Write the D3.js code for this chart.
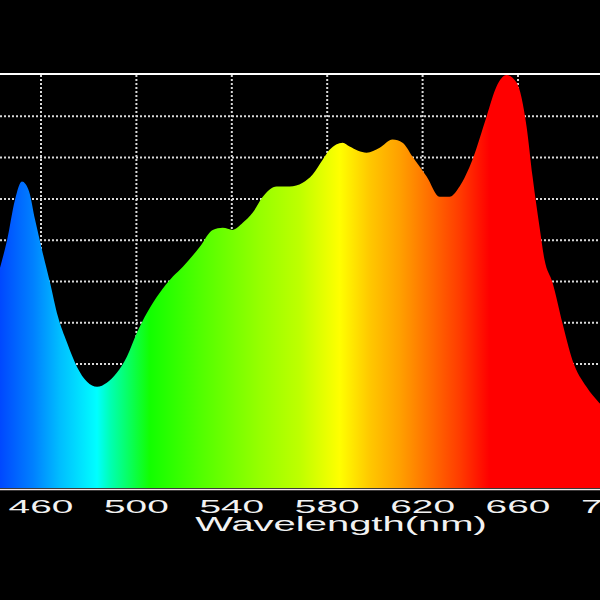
<!DOCTYPE html>
<html>
<head>
<meta charset="utf-8">
<script src="https://cdn.jsdelivr.net/npm/d3@7/dist/d3.min.js"></script>
<style>
html,body{margin:0;padding:0;background:#000;}
svg{display:block;}
</style>
</head>
<body>
<svg id="chart" width="600" height="600"></svg>
<script>
// Spectrum data: wavelength (nm) and relative intensity
const wavelengths = [442.8,445.8,449.1,452.0,455.0,457.5,460.4,463.8,467.1,470.9,475.1,479.3,483.5,487.6,491.8,496.0,500.2,504.4,509.8,515.3,519.5,526.6,532.0,536.2,540.4,544.6,548.8,553.0,558.8,564.3,569.7,573.9,578.1,581.0,586.5,589.4,596.5,602.0,607.4,611.6,615.8,621.7,627.1,631.3,635.5,640.9,646.8,651.0,655.2,659.4,663.6,666.1,669.0,671.1,674.5,678.6,682.8,688.7,694.1,700.0];
const intensity   = [0.533,0.601,0.698,0.742,0.718,0.650,0.577,0.497,0.415,0.352,0.293,0.257,0.245,0.255,0.279,0.318,0.376,0.424,0.473,0.512,0.536,0.584,0.625,0.630,0.625,0.642,0.667,0.705,0.730,0.730,0.739,0.759,0.795,0.819,0.836,0.827,0.812,0.824,0.844,0.836,0.802,0.754,0.705,0.705,0.730,0.795,0.899,0.972,1.000,0.982,0.875,0.754,0.633,0.553,0.497,0.400,0.310,0.245,0.206,0.177];

// Axis ticks
const xTicks = [460,500,540,580,620,660,700];
const yGrid  = [0.1,0.2,0.3,0.4,0.5,0.6,0.7,0.8,0.9];
const xLabel = "Wavelength(nm)";

// Colour ramp along wavelength
const stopWl     = [442.8,456.6,468.0,483.5,489.0,505.7,526.6,551.7,568.5,585.2,597.8,610.4,623.0,635.5,648.0,700.0];
const stopColors = ["#0048ff","#0080ff","#00beff","#00ffff","#00ffb4","#12ff00","#50ff00","#96ff00","#beff00","#ffff00","#ffc800","#ffa000","#ff6e00","#ff3c00","#ff0000","#ff0000"];

const W = 600, H = 600;
const x = d3.scaleLinear().domain([460,660]).range([41,518]);
const y = d3.scaleLinear().domain([0,1]).range([488,75]);

const svg = d3.select("#chart");
svg.append("rect").attr("width",W).attr("height",H).attr("fill","#000");

const defs = svg.append("defs");
const grad = defs.append("linearGradient")
  .attr("id","spec").attr("gradientUnits","userSpaceOnUse")
  .attr("x1",0).attr("x2",W).attr("y1",0).attr("y2",0);
stopWl.forEach((w,i)=>{
  grad.append("stop").attr("offset", x(w)/W).attr("stop-color", stopColors[i]);
});

// grid
const grid = svg.append("g").attr("stroke","#d8d8d8").attr("stroke-width",2).attr("stroke-dasharray","2,2");
grid.selectAll(".gy").data(yGrid).join("line")
  .attr("x1",0).attr("x2",W).attr("y1",d=>y(d)).attr("y2",d=>y(d));
grid.selectAll(".gx").data(xTicks).join("line")
  .attr("x1",d=>x(d)).attr("x2",d=>x(d)).attr("y1",y(1)).attr("y2",y(0));

// top border
svg.append("line").attr("x1",0).attr("x2",W).attr("y1",y(1)-1).attr("y2",y(1)-1)
  .attr("stroke","#fff").attr("stroke-width",2);

// area
const data = wavelengths.map((w,i)=>({w, v:intensity[i]}));
const area = d3.area().x(d=>x(d.w)).y0(y(0)).y1(d=>y(d.v)).curve(d3.curveMonotoneX);
svg.append("path").datum(data).attr("d",area).attr("fill","url(#spec)");

// bottom axis line
svg.append("line").attr("x1",0).attr("x2",W).attr("y1",y(0)+1.5).attr("y2",y(0)+1.5)
  .attr("stroke","#f4e8e8").attr("stroke-width",1.5);

// tick labels
svg.append("g").selectAll("text").data(xTicks).join("text")
  .attr("transform", d=>`translate(${x(d)},513) scale(2.1,1)`)
  .attr("text-anchor","middle")
  .attr("font-family","Liberation Sans, Arial, sans-serif")
  .attr("font-size",18.5)
  .attr("fill","#f2f2f2")
  .text(d=>d);

svg.append("text")
  .attr("transform", `translate(341,531) scale(2.05,1)`)
  .attr("text-anchor","middle")
  .attr("font-family","Liberation Sans, Arial, sans-serif")
  .attr("font-size",19.5)
  .attr("fill","#f2f2f2")
  .text(xLabel);
</script>
</body>
</html>
